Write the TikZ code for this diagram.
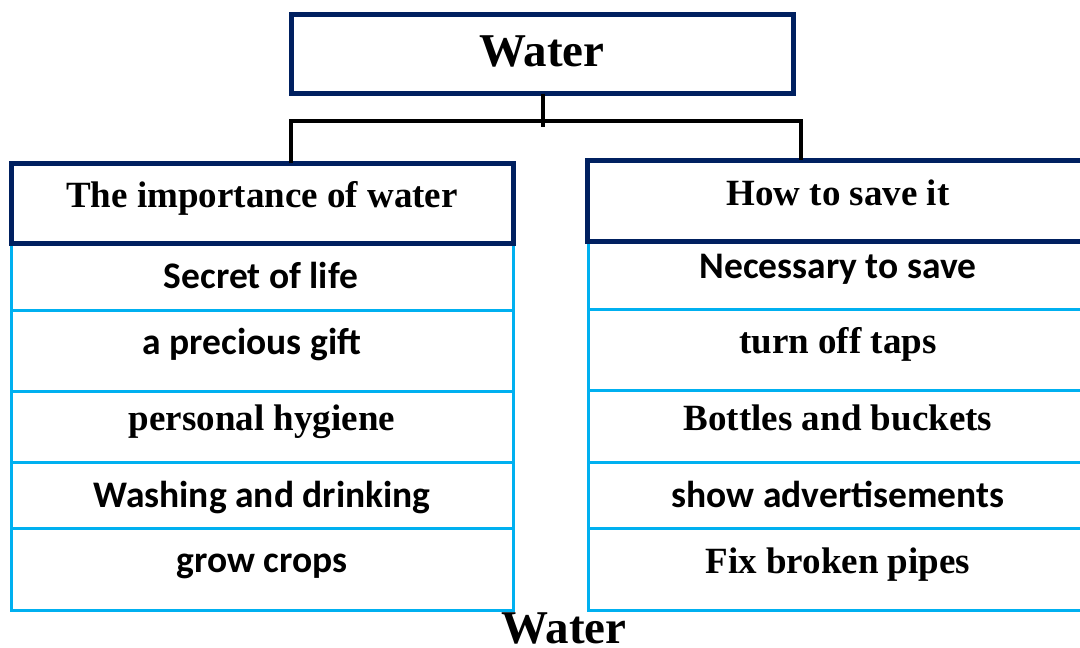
\documentclass[tikz,border=0pt]{standalone}
\usepackage{fontspec}
\setmainfont{Liberation Serif}
\newfontfamily\calib{Carlito}
\definecolor{navy}{HTML}{002060}
\definecolor{sky}{HTML}{00B0F0}
\begin{document}
\begin{tikzpicture}[x=1pt,y=-1pt,
  navybox/.style={draw=navy,line width=5pt,fill=white,minimum width=#1,inner sep=0pt,outer sep=0pt},
  rowbox/.style={draw=sky,line width=3pt,inner sep=0pt,outer sep=0pt},
  conn/.style={draw=black,line width=3.5pt},
  tms/.style={anchor=base,inner sep=0pt,font=\fontsize{37}{40}\selectfont\bfseries},
  cal/.style={anchor=base,inner sep=0pt,font=\fontsize{37.5}{40}\selectfont\calib\bfseries},
  big/.style={anchor=base,inner sep=0pt,font=\fontsize{47}{50}\selectfont\bfseries},
  ]
\useasboundingbox (0,0) rectangle (1080,648);
% left rows
\foreach \a/\b/\n in {244/310/l1,310/391/l2,391/462/l3,462/528/l4,528/610/l5}
  \node[rowbox,minimum width=502pt,minimum height={(\b-\a)*1pt}] (\n) at (262,{(\a+\b)/2}) {};
% right rows
\foreach \a/\b/\n in {241/309/r1,309/390/r2,390/462/r3,462/528/r4,528/610/r5}
  \node[rowbox,minimum width=507pt,minimum height={(\b-\a)*1pt}] (\n) at (841.5,{(\a+\b)/2}) {};
% headers
\node[navybox=502pt,minimum height=79pt] (top) at (542.5,54) {};
\node[navybox=502.5pt,minimum height=80pt] (lh) at (262.25,203) {};
\node[navybox=507pt,minimum height=81pt] (rh) at (841,200.5) {};
% connectors
\coordinate (j) at (543,121);
\coordinate (jl) at (291,121);
\coordinate (jr) at (801,121);
\coordinate (js) at (543,127);
\draw[conn] (top.south -| j) -- (js);
\draw[conn] (jl |- lh.north) -- (jl) -- (jr) -- (jr |- rh.north);
% texts
\node[big] (tt) at (542,66) {Water};
\node[tms] (lht) at (262,207) {The importance of water};
\node[tms] (rht) at (838,205) {How to save it};
\node[cal] (t1) at (261,288) {Secret of life};
\node[cal] (t2) at (252,354) {a precious gift};
\node[tms] (t3) at (262,430) {personal hygiene};
\node[cal] (t4) at (262,507) {Washing and drinking};
\node[cal] (t5) at (262,572) {grow crops};
\node[cal] (u1) at (838,278) {Necessary to save};
\node[tms] (u2) at (838,353) {turn off taps};
\node[tms] (u3) at (838,430) {Bottles and buckets};
\node[cal] (u4) at (838,507) {show advertisements};
\node[tms] (u5) at (838,573) {Fix broken pipes};
\node[big] (bt) at (564,643) {Water};
\end{tikzpicture}
\end{document}
